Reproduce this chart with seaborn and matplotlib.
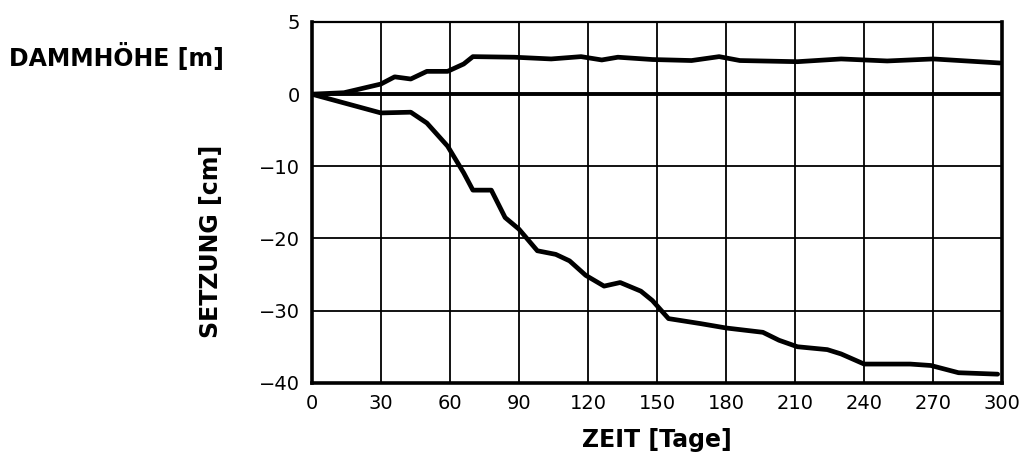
import pandas as pd
import matplotlib
matplotlib.use("Agg")
import matplotlib.pyplot as plt
import seaborn as sns

# Dammhöhe [m] over time
damm_tage = [0, 14, 30, 36, 43, 50, 59, 66, 70, 88, 104, 117, 126, 133, 148, 165, 177, 186, 211, 230, 250, 270, 299]
damm_m = [0.0, 0.1, 0.7, 1.2, 1.05, 1.58, 1.58, 2.09, 2.6, 2.56, 2.44, 2.6, 2.37, 2.56, 2.4, 2.33, 2.6, 2.33, 2.25, 2.44, 2.3, 2.44, 2.16]

# Setzung [cm] over time
setz_tage = [0, 30, 43, 50, 59, 66, 70, 78, 84, 90, 98, 106, 112, 119, 127, 134, 143, 148, 155, 169, 180, 196, 203, 211, 224, 230, 240, 260, 269, 281, 298]
setz_cm = [0.0, -2.6, -2.5, -4.0, -7.2, -10.9, -13.3, -13.3, -17.1, -18.7, -21.7, -22.2, -23.1, -25.1, -26.6, -26.1, -27.3, -28.6, -31.1, -31.8, -32.4, -33.0, -34.1, -35.0, -35.4, -36.0, -37.4, -37.4, -37.6, -38.6, -38.8]

x_ticks = [0, 30, 60, 90, 120, 150, 180, 210, 240, 270, 300]
y_ticks = [10, 0, -10, -20, -30, -40]
y_labels = ["5", "0", "\u221210", "\u221220", "\u221230", "\u221240"]

# upper band: 5 m spans the same height as 10 cm
m_to_axis = 2.0

df_damm = pd.DataFrame({"tage": damm_tage, "wert": [v * m_to_axis for v in damm_m]})
df_setz = pd.DataFrame({"tage": setz_tage, "wert": setz_cm})

sns.set_style("white")
plt.rcParams["font.family"] = ["DejaVu Sans"]
plt.rcParams["text.color"] = "black"
plt.rcParams["axes.labelcolor"] = "black"
plt.rcParams["xtick.color"] = "black"
plt.rcParams["ytick.color"] = "black"

fig = plt.figure(figsize=(10.29, 4.68), dpi=100)
ax = fig.add_axes([0.303, 0.182, 0.671, 0.771])

ax.grid(True, color="black", linewidth=1.3)
ax.set_axisbelow(True)
ax.axhline(0, color="black", linewidth=2.8, zorder=2)

sns.lineplot(data=df_damm, x="tage", y="wert", ax=ax, color="black", linewidth=3.4, zorder=3)
sns.lineplot(data=df_setz, x="tage", y="wert", ax=ax, color="black", linewidth=3.4, zorder=3)

ax.set_xlim(0, 300)
ax.set_ylim(-40, 10)
ax.set_xticks(x_ticks)
ax.set_yticks(y_ticks)
ax.set_yticklabels(y_labels)
ax.tick_params(axis="both", labelsize=14, length=5, width=1.3, direction="out")
ax.tick_params(axis="x", pad=3)

for side in ["left", "bottom", "right"]:
    ax.spines[side].set_linewidth(2.6)
    ax.spines[side].set_color("black")
ax.spines["top"].set_linewidth(1.6)
ax.spines["top"].set_color("black")

ax.set_xlabel("ZEIT [Tage]", fontsize=17, fontweight="bold", labelpad=11)
ax.set_ylabel("")
fig.text(0.205, 0.485, "SETZUNG [cm]", rotation=90, fontsize=17, fontweight="bold",
         ha="center", va="center")
fig.text(0.009, 0.878, "DAMMHÖHE [m]", fontsize=17, fontweight="bold", ha="left", va="center")

fig.savefig("out.png", dpi=100)
